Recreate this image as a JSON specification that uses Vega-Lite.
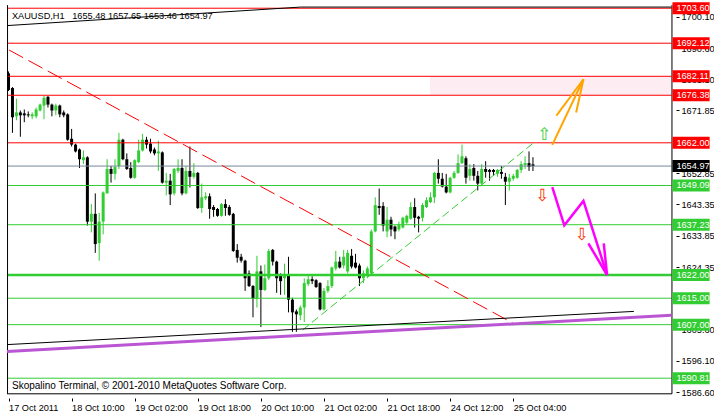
{
"$schema": "https://vega.github.io/schema/vega-lite/v6.json",
"width": 704, "height": 406,
"autosize": {"type": "none"},
"padding": 5,
"background": "white",
"config": {"view": {"stroke": null}, "font": "Liberation Sans"},
"datasets": {
"candles": [
{"i":0,"o":1682.99,"h":1683.58,"l":1677.68,"c":1677.98},
{"i":1,"o":1678.57,"h":1678.86,"l":1665.00,"c":1669.72},
{"i":2,"o":1670.01,"h":1675.32,"l":1668.83,"c":1671.19},
{"i":3,"o":1671.19,"h":1671.78,"l":1663.82,"c":1670.31},
{"i":4,"o":1670.90,"h":1672.08,"l":1668.24,"c":1670.31},
{"i":5,"o":1670.60,"h":1671.49,"l":1669.72,"c":1670.31},
{"i":6,"o":1670.01,"h":1671.19,"l":1669.13,"c":1670.60},
{"i":7,"o":1670.01,"h":1672.67,"l":1669.42,"c":1672.08},
{"i":8,"o":1671.78,"h":1673.85,"l":1671.49,"c":1673.55},
{"i":9,"o":1673.26,"h":1676.19,"l":1669.13,"c":1675.61},
{"i":10,"o":1675.91,"h":1676.19,"l":1672.67,"c":1673.55},
{"i":11,"o":1673.55,"h":1673.85,"l":1670.01,"c":1671.78},
{"i":12,"o":1671.78,"h":1673.85,"l":1670.31,"c":1673.26},
{"i":13,"o":1673.26,"h":1673.55,"l":1669.72,"c":1670.60},
{"i":14,"o":1671.19,"h":1671.78,"l":1669.72,"c":1670.31},
{"i":15,"o":1670.60,"h":1670.90,"l":1662.64,"c":1662.93},
{"i":16,"o":1663.23,"h":1666.19,"l":1660.87,"c":1661.46},
{"i":17,"o":1661.46,"h":1661.75,"l":1659.10,"c":1659.39},
{"i":18,"o":1659.98,"h":1660.28,"l":1654.38,"c":1657.03},
{"i":19,"o":1656.74,"h":1659.69,"l":1655.56,"c":1657.62},
{"i":20,"o":1657.62,"h":1657.92,"l":1636.97,"c":1638.15},
{"i":21,"o":1638.15,"h":1643.46,"l":1634.91,"c":1640.51},
{"i":22,"o":1640.51,"h":1646.70,"l":1628.71,"c":1631.37},
{"i":23,"o":1631.66,"h":1640.81,"l":1626.35,"c":1638.15},
{"i":24,"o":1638.15,"h":1647.30,"l":1634.32,"c":1647.00},
{"i":25,"o":1646.70,"h":1657.03,"l":1646.70,"c":1654.08},
{"i":26,"o":1654.08,"h":1654.97,"l":1649.95,"c":1652.61},
{"i":27,"o":1652.61,"h":1657.03,"l":1650.84,"c":1654.67},
{"i":28,"o":1654.97,"h":1665.00,"l":1654.08,"c":1662.93},
{"i":29,"o":1662.93,"h":1663.23,"l":1656.74,"c":1657.03},
{"i":30,"o":1657.03,"h":1658.80,"l":1653.79,"c":1654.08},
{"i":31,"o":1654.38,"h":1656.15,"l":1651.13,"c":1651.43},
{"i":32,"o":1651.43,"h":1657.03,"l":1651.13,"c":1656.74},
{"i":33,"o":1656.15,"h":1662.93,"l":1655.85,"c":1659.69},
{"i":34,"o":1659.69,"h":1664.70,"l":1659.39,"c":1662.93},
{"i":35,"o":1662.93,"h":1663.82,"l":1660.28,"c":1661.46},
{"i":36,"o":1661.75,"h":1663.23,"l":1658.80,"c":1659.39},
{"i":37,"o":1659.98,"h":1660.57,"l":1658.21,"c":1658.80},
{"i":38,"o":1658.80,"h":1662.64,"l":1653.49,"c":1659.39},
{"i":39,"o":1659.10,"h":1659.39,"l":1649.66,"c":1649.95},
{"i":40,"o":1649.95,"h":1652.90,"l":1646.11,"c":1650.54},
{"i":41,"o":1650.54,"h":1652.61,"l":1643.17,"c":1646.41},
{"i":42,"o":1646.70,"h":1654.38,"l":1646.11,"c":1654.08},
{"i":43,"o":1653.49,"h":1657.03,"l":1652.90,"c":1654.38},
{"i":44,"o":1654.38,"h":1657.03,"l":1646.11,"c":1646.70},
{"i":45,"o":1646.70,"h":1654.97,"l":1646.41,"c":1653.49},
{"i":46,"o":1653.49,"h":1660.87,"l":1648.48,"c":1651.72},
{"i":47,"o":1651.72,"h":1655.85,"l":1651.13,"c":1652.90},
{"i":48,"o":1652.90,"h":1653.20,"l":1641.99,"c":1642.28},
{"i":49,"o":1642.28,"h":1649.66,"l":1640.81,"c":1645.52},
{"i":50,"o":1645.23,"h":1647.00,"l":1644.64,"c":1645.82},
{"i":51,"o":1645.82,"h":1646.70,"l":1639.04,"c":1641.99},
{"i":52,"o":1642.58,"h":1643.17,"l":1639.63,"c":1641.69},
{"i":53,"o":1641.99,"h":1642.28,"l":1639.63,"c":1639.92},
{"i":54,"o":1639.92,"h":1643.76,"l":1639.63,"c":1643.46},
{"i":55,"o":1643.46,"h":1644.93,"l":1639.92,"c":1642.28},
{"i":56,"o":1642.58,"h":1643.17,"l":1639.92,"c":1640.22},
{"i":57,"o":1640.51,"h":1640.81,"l":1629.01,"c":1629.30},
{"i":58,"o":1629.60,"h":1631.37,"l":1625.76,"c":1627.24},
{"i":59,"o":1627.53,"h":1628.42,"l":1625.76,"c":1626.35},
{"i":60,"o":1626.35,"h":1626.65,"l":1617.21,"c":1621.04},
{"i":61,"o":1622.52,"h":1623.40,"l":1618.39,"c":1618.68},
{"i":62,"o":1618.68,"h":1618.98,"l":1609.24,"c":1614.85},
{"i":63,"o":1614.85,"h":1627.83,"l":1612.19,"c":1623.11},
{"i":64,"o":1623.11,"h":1624.88,"l":1606.29,"c":1617.50},
{"i":65,"o":1617.50,"h":1625.17,"l":1617.21,"c":1621.04},
{"i":66,"o":1621.04,"h":1629.89,"l":1620.45,"c":1629.30},
{"i":67,"o":1629.60,"h":1629.89,"l":1624.88,"c":1626.06},
{"i":68,"o":1626.06,"h":1626.35,"l":1616.62,"c":1621.04},
{"i":69,"o":1621.93,"h":1622.52,"l":1616.03,"c":1620.16},
{"i":70,"o":1621.04,"h":1625.47,"l":1616.03,"c":1621.93},
{"i":71,"o":1621.93,"h":1627.53,"l":1610.72,"c":1614.55},
{"i":72,"o":1614.55,"h":1615.14,"l":1604.82,"c":1610.72},
{"i":73,"o":1611.01,"h":1611.60,"l":1604.82,"c":1610.13},
{"i":74,"o":1609.83,"h":1612.78,"l":1608.36,"c":1612.19},
{"i":75,"o":1612.19,"h":1621.04,"l":1607.77,"c":1619.57},
{"i":76,"o":1619.27,"h":1621.93,"l":1618.68,"c":1620.75},
{"i":77,"o":1620.75,"h":1621.63,"l":1619.27,"c":1620.16},
{"i":78,"o":1620.45,"h":1620.75,"l":1618.09,"c":1618.39},
{"i":79,"o":1619.57,"h":1619.87,"l":1611.31,"c":1611.60},
{"i":80,"o":1611.60,"h":1618.09,"l":1611.31,"c":1617.21},
{"i":81,"o":1617.21,"h":1620.45,"l":1616.62,"c":1618.68},
{"i":82,"o":1618.68,"h":1624.58,"l":1618.09,"c":1624.29},
{"i":83,"o":1623.99,"h":1629.30,"l":1623.40,"c":1626.06},
{"i":84,"o":1626.06,"h":1627.53,"l":1623.99,"c":1624.29},
{"i":85,"o":1624.88,"h":1629.60,"l":1623.99,"c":1627.53},
{"i":86,"o":1623.11,"h":1629.60,"l":1622.52,"c":1628.71},
{"i":87,"o":1627.83,"h":1629.89,"l":1623.99,"c":1624.58},
{"i":88,"o":1625.76,"h":1628.42,"l":1623.99,"c":1624.29},
{"i":89,"o":1624.88,"h":1625.47,"l":1618.68,"c":1621.04},
{"i":90,"o":1621.04,"h":1623.40,"l":1619.57,"c":1622.52},
{"i":91,"o":1621.93,"h":1624.58,"l":1621.04,"c":1623.99},
{"i":92,"o":1622.52,"h":1635.79,"l":1621.93,"c":1635.20},
{"i":93,"o":1635.20,"h":1645.52,"l":1634.91,"c":1643.17},
{"i":94,"o":1642.87,"h":1648.18,"l":1640.22,"c":1642.28},
{"i":95,"o":1642.87,"h":1644.05,"l":1635.20,"c":1636.97},
{"i":96,"o":1635.20,"h":1642.58,"l":1633.43,"c":1638.74},
{"i":97,"o":1638.74,"h":1639.63,"l":1633.73,"c":1635.79},
{"i":98,"o":1636.68,"h":1636.97,"l":1632.84,"c":1635.20},
{"i":99,"o":1635.79,"h":1638.15,"l":1635.20,"c":1637.27},
{"i":100,"o":1636.38,"h":1639.63,"l":1636.09,"c":1639.33},
{"i":101,"o":1637.86,"h":1640.22,"l":1637.27,"c":1639.92},
{"i":102,"o":1639.04,"h":1644.05,"l":1638.74,"c":1642.58},
{"i":103,"o":1642.58,"h":1645.23,"l":1636.38,"c":1639.33},
{"i":104,"o":1639.63,"h":1639.92,"l":1634.91,"c":1639.04},
{"i":105,"o":1639.33,"h":1643.76,"l":1638.15,"c":1643.17},
{"i":106,"o":1642.58,"h":1645.52,"l":1642.28,"c":1644.64},
{"i":107,"o":1644.05,"h":1647.00,"l":1643.76,"c":1645.52},
{"i":108,"o":1645.52,"h":1653.20,"l":1643.76,"c":1652.90},
{"i":109,"o":1652.90,"h":1657.03,"l":1649.66,"c":1651.13},
{"i":110,"o":1651.13,"h":1652.90,"l":1648.48,"c":1648.77},
{"i":111,"o":1648.77,"h":1652.61,"l":1646.70,"c":1647.00},
{"i":112,"o":1647.00,"h":1651.73,"l":1646.70,"c":1651.43},
{"i":113,"o":1651.43,"h":1653.49,"l":1651.13,"c":1652.90},
{"i":114,"o":1652.90,"h":1658.50,"l":1652.61,"c":1655.85},
{"i":115,"o":1655.85,"h":1661.46,"l":1655.56,"c":1657.92},
{"i":116,"o":1657.33,"h":1657.92,"l":1649.66,"c":1651.43},
{"i":117,"o":1652.02,"h":1655.56,"l":1650.54,"c":1654.08},
{"i":118,"o":1654.38,"h":1655.56,"l":1650.54,"c":1652.02},
{"i":119,"o":1652.02,"h":1653.49,"l":1647.59,"c":1649.66},
{"i":120,"o":1649.66,"h":1655.56,"l":1649.07,"c":1654.08},
{"i":121,"o":1654.08,"h":1656.44,"l":1651.43,"c":1653.20},
{"i":122,"o":1653.79,"h":1654.08,"l":1650.54,"c":1653.20},
{"i":123,"o":1653.79,"h":1654.08,"l":1652.02,"c":1653.20},
{"i":124,"o":1652.61,"h":1654.08,"l":1651.72,"c":1653.79},
{"i":125,"o":1653.20,"h":1654.97,"l":1651.13,"c":1652.61},
{"i":126,"o":1651.72,"h":1652.90,"l":1643.17,"c":1650.25},
{"i":127,"o":1650.25,"h":1652.61,"l":1647.59,"c":1651.43},
{"i":128,"o":1651.13,"h":1652.61,"l":1650.54,"c":1652.02},
{"i":129,"o":1651.43,"h":1654.08,"l":1651.13,"c":1653.79},
{"i":130,"o":1653.79,"h":1656.44,"l":1652.90,"c":1655.56},
{"i":131,"o":1655.26,"h":1657.92,"l":1654.08,"c":1655.85},
{"i":132,"o":1655.85,"h":1659.39,"l":1653.49,"c":1654.67},
{"i":133,"o":1655.48,"h":1657.65,"l":1653.46,"c":1654.97}
],
"levels": [
{"p":1702.70,"label":"1703.60","kind":"res"},
{"p":1692.12,"label":"1692.12","kind":"res"},
{"p":1682.11,"label":"1682.11","kind":"res"},
{"p":1676.38,"label":"1676.38","kind":"res"},
{"p":1662.00,"label":"1662.00","kind":"res"},
{"p":1654.97,"label":"1654.97","kind":"bid"},
{"p":1649.09,"label":"1649.09","kind":"sup"},
{"p":1637.23,"label":"1637.23","kind":"sup"},
{"p":1622.00,"label":"1622.00","kind":"major"},
{"p":1615.00,"label":"1615.00","kind":"sup"},
{"p":1607.00,"label":"1607.00","kind":"sup"},
{"p":1590.81,"label":"1590.81","kind":"sup"}
],
"lines": [
{"seg":"rd","i":0.125,"p":1690.07},{"seg":"rd","i":127.9,"p":1607.47},
{"seg":"gd","i":74.6,"p":1605.41},{"seg":"gd","i":132.9,"p":1661.75},
{"seg":"bt1","i":-0.375,"p":1600.97},{"seg":"bt1","i":158.6,"p":1611.01},
{"seg":"bt2","i":-0.375,"p":1697.45},{"seg":"bt2","i":74.1,"p":1703.05},{"seg":"bt2","i":168.125,"p":1703.05},
{"seg":"pu","i":-0.375,"p":1598.92},{"seg":"pu","i":168.125,"p":1609.83},
{"seg":"o1","i":137.9,"p":1661.37},{"seg":"o1","i":145.8,"p":1681.22},
{"seg":"o2","i":138.95,"p":1670.22},{"seg":"o2","i":145.8,"p":1681.22},
{"seg":"o3","i":143.95,"p":1671.19},{"seg":"o3","i":145.8,"p":1681.22},
{"seg":"m1","i":137.9,"p":1648.57},{"seg":"m1","i":140.95,"p":1637.06},{"seg":"m1","i":145.8,"p":1644.44},{"seg":"m1","i":151.8,"p":1622.02},
{"seg":"m2","i":147.05,"p":1631.57},{"seg":"m2","i":151.8,"p":1622.02},
{"seg":"m3","i":150.95,"p":1631.57},{"seg":"m3","i":151.8,"p":1622.02}
]
},
"layer": [
{"data": {"values": [{}]}, "mark": {"type": "rect", "color": "#FDECF1"},
 "encoding": {"x": {"datum": 106.875, "type": "quantitative", "axis": {"title": null}}, "x2": {"datum": 168.125},
  "y": {"datum": 1682.11, "type": "quantitative", "axis": {"title": null}}, "y2": {"datum": 1676.38}}},
{"data": {"name": "candles"}, "mark": {"type": "rule", "strokeWidth": 1},
 "encoding": {
  "x": {"field": "i", "type": "quantitative", "scale": {"domain": [0.375, 176.375], "nice": false, "zero": false},
   "axis": {"values": [0,16,32,48,64,80,96,112,128], "labelExpr": "['17 Oct 2011','18 Oct 10:00','19 Oct 02:00','19 Oct 18:00','20 Oct 10:00','21 Oct 02:00','21 Oct 18:00','24 Oct 12:00','25 Oct 04:00'][round(datum.value/16)]",
    "offset": -13, "domain": false, "labelAlign": "left", "labelBaseline": "top", "labelPadding": 2, "tickSize": 3, "tickColor": "black", "labelColor": "black", "labelFont": "Liberation Sans", "labelFontSize": 9.2, "title": null, "grid": false, "labelFlush": false, "labelOverlap": false, "labelBound": false}},
  "y": {"field": "l", "type": "quantitative", "scale": {"domain": [1582.401, 1702.165], "nice": false, "zero": false},
   "axis": {"orient": "right", "offset": -33, "domain": false, "values": [1700.10,1690.60,1681.10,1671.85,1652.85,1643.35,1633.85,1624.35,1605.60,1596.10,1586.60], "format": ".2f",
    "labelAlign": "left", "labelBaseline": "middle", "labelPadding": 2, "tickSize": 3, "tickColor": "black", "labelColor": "black", "labelFont": "Liberation Sans", "labelFontSize": 9.2, "title": null, "grid": false, "labelFlush": false, "labelOverlap": false, "labelBound": false}},
  "y2": {"field": "h"},
  "color": {"condition": {"test": "datum.c > datum.o", "value": "#32CD32"}, "value": "#000000"}}},
{"data": {"name": "candles"}, "mark": {"type": "bar", "size": 3},
 "encoding": {
  "x": {"field": "i", "type": "quantitative", "axis": {"title": null}},
  "y": {"field": "o", "type": "quantitative", "axis": {"title": null}},
  "y2": {"field": "c"},
  "color": {"condition": {"test": "datum.c > datum.o", "value": "#32CD32"}, "value": "#000000"}}},
{"data": {"name": "levels"}, "mark": {"type": "rule"},
 "encoding": {
  "x": {"datum": -0.375, "type": "quantitative", "axis": {"title": null}}, "x2": {"datum": 168.125},
  "y": {"field": "p", "type": "quantitative", "axis": {"title": null}},
  "color": {"condition": [{"test": "datum.kind == 'res'", "value": "#FF0000"}, {"test": "datum.kind == 'bid'", "value": "#778899"}], "value": "#32CD32"},
  "strokeWidth": {"condition": {"test": "datum.kind == 'major'", "value": 2.5}, "value": 1}}},
{"data": {"values": [{}]}, "mark": {"type": "rule", "color": "black", "strokeWidth": 1},
 "encoding": {"x": {"datum": -0.25, "type": "quantitative", "axis": {"title": null}},
  "y": {"datum": 1703.64, "type": "quantitative", "axis": {"title": null}}, "y2": {"datum": 1586.09}}},
{"data": {"values": [{}]}, "mark": {"type": "rule", "color": "black", "strokeWidth": 1},
 "encoding": {"x": {"datum": 168.25, "type": "quantitative", "axis": {"title": null}},
  "y": {"datum": 1703.64, "type": "quantitative", "axis": {"title": null}}, "y2": {"datum": 1586.09}}},
{"data": {"values": [{}]}, "mark": {"type": "rule", "color": "black", "strokeWidth": 1},
 "encoding": {"x": {"datum": -0.375, "type": "quantitative", "axis": {"title": null}}, "x2": {"datum": 168.25},
  "y": {"datum": 1586.09, "type": "quantitative", "axis": {"title": null}}}},
{"data": {"name": "lines"}, "transform": [{"filter": "datum.seg == 'rd'"}], "mark": {"type": "line", "color": "#FF0000", "strokeWidth": 1, "strokeDash": [16, 6]},
 "encoding": {"x": {"field": "i", "type": "quantitative", "axis": {"title": null}}, "y": {"field": "p", "type": "quantitative", "axis": {"title": null}}}},
{"data": {"name": "lines"}, "transform": [{"filter": "datum.seg == 'gd'"}], "mark": {"type": "line", "color": "#32CD32", "strokeWidth": 1, "strokeDash": [8, 4]},
 "encoding": {"x": {"field": "i", "type": "quantitative", "axis": {"title": null}}, "y": {"field": "p", "type": "quantitative", "axis": {"title": null}}}},
{"data": {"name": "lines"}, "transform": [{"filter": "datum.seg == 'pu'"}], "mark": {"type": "line", "color": "#BA55D3", "strokeWidth": 3},
 "encoding": {"x": {"field": "i", "type": "quantitative", "axis": {"title": null}}, "y": {"field": "p", "type": "quantitative", "axis": {"title": null}}}},
{"data": {"name": "lines"}, "transform": [{"filter": "datum.seg == 'bt1' || datum.seg == 'bt2'"}], "mark": {"type": "line", "color": "#000000", "strokeWidth": 1},
 "encoding": {"x": {"field": "i", "type": "quantitative", "axis": {"title": null}}, "y": {"field": "p", "type": "quantitative", "axis": {"title": null}}, "detail": {"field": "seg"}}},
{"data": {"name": "lines"}, "transform": [{"filter": "indexof(['o1','o2','o3'], datum.seg) >= 0"}], "mark": {"type": "line", "color": "#FFA500", "strokeWidth": 2},
 "encoding": {"x": {"field": "i", "type": "quantitative", "axis": {"title": null}}, "y": {"field": "p", "type": "quantitative", "axis": {"title": null}}, "detail": {"field": "seg"}}},
{"data": {"name": "lines"}, "transform": [{"filter": "indexof(['m1','m2','m3'], datum.seg) >= 0"}], "mark": {"type": "line", "color": "#FF00FF", "strokeWidth": 2.5},
 "encoding": {"x": {"field": "i", "type": "quantitative", "axis": {"title": null}}, "y": {"field": "p", "type": "quantitative", "axis": {"title": null}}, "detail": {"field": "seg"}}},
{"data": {"values": [{}]}, "mark": {"type": "text", "text": "⇧", "font": "DejaVu Sans", "fontSize": 17, "color": "#32CD32", "align": "center", "baseline": "middle"},
 "encoding": {"x": {"datum": 135.9, "type": "quantitative", "axis": {"title": null}}, "y": {"datum": 1664.4, "type": "quantitative", "axis": {"title": null}}}},
{"data": {"values": [{}]}, "mark": {"type": "text", "text": "⇩", "font": "DejaVu Sans", "fontSize": 17, "color": "#FF3300", "align": "center", "baseline": "middle"},
 "encoding": {"x": {"datum": 135.4, "type": "quantitative", "axis": {"title": null}}, "y": {"datum": 1645.8, "type": "quantitative", "axis": {"title": null}}}},
{"data": {"values": [{}]}, "mark": {"type": "text", "text": "⇩", "font": "DejaVu Sans", "fontSize": 17, "color": "#FF3300", "align": "center", "baseline": "middle"},
 "encoding": {"x": {"datum": 145.4, "type": "quantitative", "axis": {"title": null}}, "y": {"datum": 1634.0, "type": "quantitative", "axis": {"title": null}}}},
{"data": {"values": [{}]}, "mark": {"type": "text", "text": "XAUUSD,H1\u00a0\u00a0 1655.48 1657.65 1653.46 1654.97", "font": "Liberation Sans", "fontSize": 9.2, "color": "black", "align": "left", "baseline": "middle"},
 "encoding": {"x": {"datum": 0.875, "type": "quantitative", "axis": {"title": null}}, "y": {"datum": 1700.4, "type": "quantitative", "axis": {"title": null}}}},
{"data": {"values": [{}]}, "mark": {"type": "text", "text": "Skopalino Terminal, © 2001-2010 MetaQuotes Software Corp.", "font": "Liberation Sans", "fontSize": 10, "color": "black", "align": "left", "baseline": "middle"},
 "encoding": {"x": {"datum": 0.875, "type": "quantitative", "axis": {"title": null}}, "y": {"datum": 1588.3, "type": "quantitative", "axis": {"title": null}}}},
{"data": {"name": "levels"}, "mark": {"type": "bar", "size": 12},
 "encoding": {
  "x": {"datum": 168.375, "type": "quantitative", "axis": {"title": null}}, "x2": {"datum": 177.8},
  "y": {"field": "p", "type": "quantitative", "axis": {"title": null}},
  "color": {"condition": [{"test": "datum.kind == 'res'", "value": "#FF0000"}, {"test": "datum.kind == 'bid'", "value": "#000000"}], "value": "#32CD32"}}},
{"data": {"name": "levels"}, "mark": {"type": "text", "font": "Liberation Sans", "fontSize": 9.2, "color": "white", "align": "left", "baseline": "middle"},
 "encoding": {
  "x": {"datum": 169.375, "type": "quantitative", "axis": {"title": null}},
  "y": {"field": "p", "type": "quantitative", "axis": {"title": null}},
  "text": {"field": "label"}}}
]
}
